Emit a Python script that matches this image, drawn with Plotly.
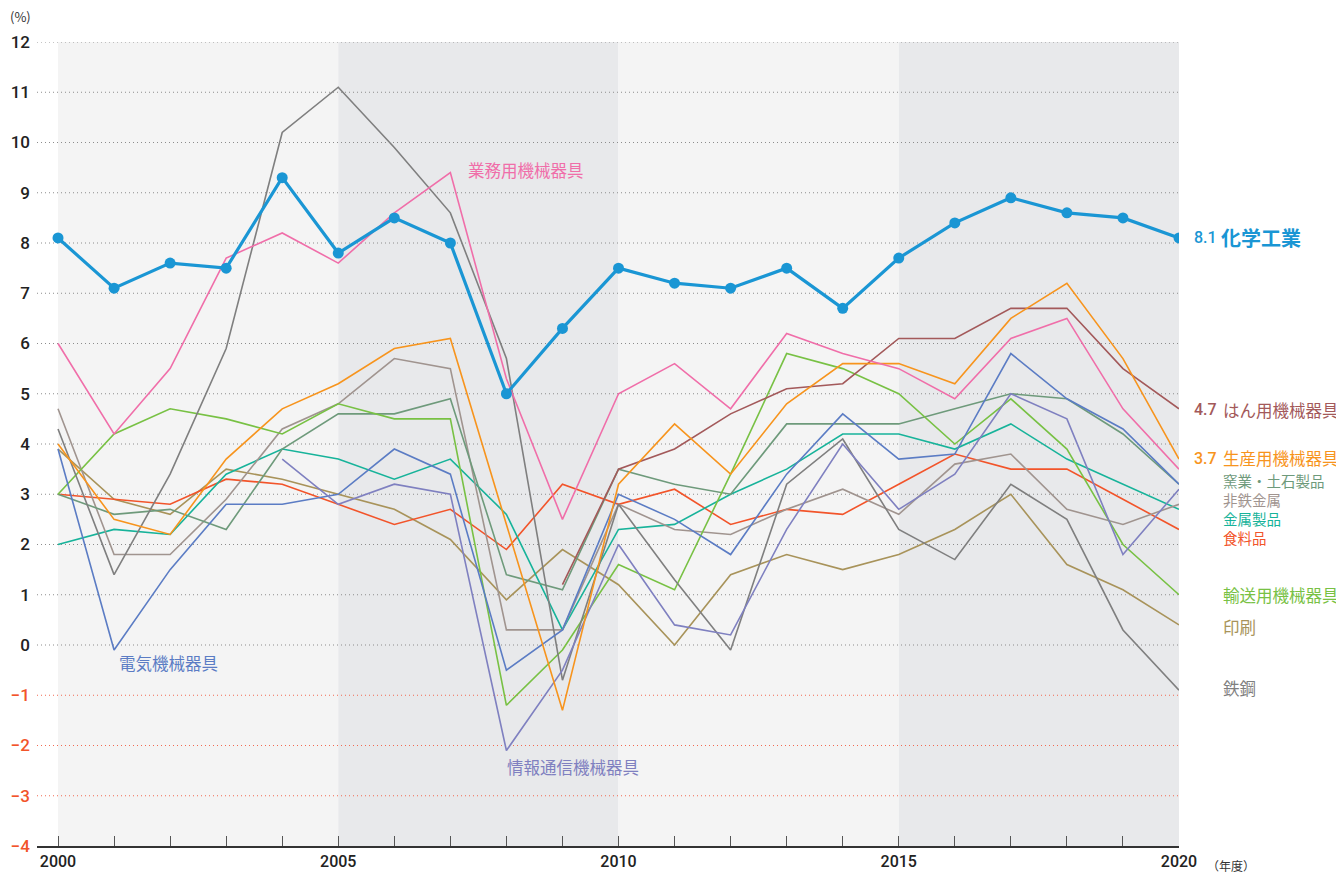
import plotly.graph_objects as go

years = list(range(2000, 2021))

# growth rate by industry (%), None = no data for that year
chemical = [8.1, 7.1, 7.6, 7.5, 9.3, 7.8, 8.5, 8.0, 5.0, 6.3, 7.5, 7.2, 7.1, 7.5, 6.7, 7.7, 8.4, 8.9, 8.6, 8.5, 8.1]
business_machinery = [6.0, 4.2, 5.5, 7.7, 8.2, 7.6, 8.6, 9.4, 5.3, 2.5, 5.0, 5.6, 4.7, 6.2, 5.8, 5.5, 4.9, 6.1, 6.5, 4.7, 3.5]
steel = [4.3, 1.4, 3.4, 5.9, 10.2, 11.1, 9.9, 8.6, 5.7, -0.7, 2.8, 1.3, -0.1, 3.2, 4.1, 2.3, 1.7, 3.2, 2.5, 0.3, -0.9]
electrical = [3.9, -0.1, 1.5, 2.8, 2.8, 3.0, 3.9, 3.4, -0.5, 0.3, 3.0, 2.5, 1.8, 3.4, 4.6, 3.7, 3.8, 5.8, 4.9, 4.3, 3.2]
info_comm = [None, None, None, None, 3.7, 2.8, 3.2, 3.0, -2.1, -0.5, 2.0, 0.4, 0.2, 2.3, 4.0, 2.7, 3.4, 5.0, 4.5, 1.8, 3.1]
general_machinery = [None] * 9 + [1.2, 3.5, 3.9, 4.6, 5.1, 5.2, 6.1, 6.1, 6.7, 6.7, 5.5, 4.7]
production_machinery = [4.0, 2.5, 2.2, 3.7, 4.7, 5.2, 5.9, 6.1, 2.4, -1.3, 3.2, 4.4, 3.4, 4.8, 5.6, 5.6, 5.2, 6.5, 7.2, 5.7, 3.7]
ceramics = [3.0, 2.6, 2.7, 2.3, 3.9, 4.6, 4.6, 4.9, 1.4, 1.1, 3.5, 3.2, 3.0, 4.4, 4.4, 4.4, 4.7, 5.0, 4.9, 4.2, 3.2]
nonferrous = [4.7, 1.8, 1.8, 2.9, 4.3, 4.8, 5.7, 5.5, 0.3, 0.3, 2.8, 2.3, 2.2, 2.7, 3.1, 2.6, 3.6, 3.8, 2.7, 2.4, 2.8]
metal_products = [2.0, 2.3, 2.2, 3.4, 3.9, 3.7, 3.3, 3.7, 2.6, 0.3, 2.3, 2.4, 3.0, 3.5, 4.2, 4.2, 3.9, 4.4, 3.7, 3.2, 2.7]
food = [3.0, 2.9, 2.8, 3.3, 3.2, 2.8, 2.4, 2.7, 1.9, 3.2, 2.8, 3.1, 2.4, 2.7, 2.6, 3.2, 3.8, 3.5, 3.5, 2.9, 2.3]
transport = [3.0, 4.2, 4.7, 4.5, 4.2, 4.8, 4.5, 4.5, -1.2, -0.1, 1.6, 1.1, 3.4, 5.8, 5.5, 5.0, 4.0, 4.9, 3.9, 2.0, 1.0]
printing = [3.9, 2.9, 2.6, 3.5, 3.3, 3.0, 2.7, 2.1, 0.9, 1.9, 1.2, 0.0, 1.4, 1.8, 1.5, 1.8, 2.3, 3.0, 1.6, 1.1, 0.4]

# thin series: name, values, colour, label y at right edge (None = inline label, "stack" = grouped label)
thin_series = [
    ("印刷", printing, "#a8935a", 0.36),
    ("食料品", food, "#f2542a", "stack"),
    ("金属製品", metal_products, "#17b39a", "stack"),
    ("非鉄金属", nonferrous, "#a0948f", "stack"),
    ("窯業・土石製品", ceramics, "#6e9a7b", "stack"),
    ("輸送用機械器具", transport, "#78c144", 1.0),
    ("鉄鋼", steel, "#7f7f7f", -0.86),
    ("電気機械器具", electrical, "#5b7cc4", None),
    ("情報通信機械器具", info_comm, "#7f80c0", None),
    ("はん用機械器具", general_machinery, "#a3595a", 4.68),
    ("生産用機械器具", production_machinery, "#f7941d", 3.72),
    ("業務用機械器具", business_machinery, "#f06ea9", None),
]
stack_order = ["窯業・土石製品", "非鉄金属", "金属製品", "食料品"]
chem_color = "#1a96d4"

y_ticks = list(range(-4, 13))
bands = [(2000, 2005, "#f4f4f4"), (2005, 2010, "#e8e9eb"), (2010, 2015, "#f4f4f4"), (2015, 2020, "#e8e9eb")]
x_min, x_max = 1999.625, 2020.0

NUM_FONT = "Roboto, Noto Sans CJK JP"
JP_FONT = "Noto Sans CJK JP, Roboto"

fig = go.Figure()

for name, vals, color, _ in thin_series:
    fig.add_trace(go.Scatter(x=years, y=vals, mode="lines", name=name,
                             line=dict(color=color, width=1.6), connectgaps=False))

fig.add_trace(go.Scatter(x=years, y=chemical, mode="lines+markers", name="化学工業",
                         line=dict(color=chem_color, width=3.2),
                         marker=dict(size=11, color=chem_color)))

# alternating background bands
for x0, x1, c in bands:
    fig.add_shape(type="rect", xref="x", yref="y", x0=x0, x1=x1, y0=-4, y1=12,
                  fillcolor=c, line_width=0, layer="below")

# dotted grid lines, red below zero
for v in y_ticks[1:]:
    fig.add_shape(type="line", xref="x", yref="y", x0=x_min, x1=x_max, y0=v, y1=v,
                  line=dict(color="#f26a52" if v < 0 else "#8c8c8c", width=1, dash="1px,3px"),
                  layer="below")

tick_text = []
for v in y_ticks:
    if v < 0:
        tick_text.append(f'<span style="color:#f2542a">−{abs(v)}</span>')
    else:
        tick_text.append(str(v))

anns = []
colors = {name: color for name, _, color, _ in thin_series}
last_vals = {"はん用機械器具": general_machinery[-1], "生産用機械器具": production_machinery[-1]}
for name, vals, color, ly in thin_series:
    if ly is None or ly == "stack":
        continue
    anns.append(dict(x=2020, y=ly, xref="x", yref="y", text=name, showarrow=False,
                     xanchor="left", xshift=42,
                     font=dict(family=JP_FONT, size=16.5, color=color)))
    if name in last_vals:
        anns.append(dict(x=2020, y=ly, xref="x", yref="y", text=f"{last_vals[name]:.1f}", showarrow=False,
                         xanchor="left", xshift=13, font=dict(family=NUM_FONT, size=16, color=color, weight=500)))

# grouped labels for the four close series
stack_text = "<br>".join(f'<span style="color:{colors[n]}">{n}</span>' for n in stack_order)
anns.append(dict(x=2020, y=2.7, xref="x", yref="y", text=stack_text, showarrow=False,
                 xanchor="left", yanchor="middle", align="left", xshift=42,
                 font=dict(family=JP_FONT, size=14.5, color="#555")))

anns.append(dict(x=2020, y=chemical[-1], xref="x", yref="y", text=f"{chemical[-1]:.1f}", showarrow=False,
                 xanchor="left", xshift=13, font=dict(family=NUM_FONT, size=16, color=chem_color, weight=500)))
anns.append(dict(x=2020, y=chemical[-1], xref="x", yref="y", text="<b>化学工業</b>", showarrow=False,
                 xanchor="left", xshift=40, font=dict(family=JP_FONT, size=20, color=chem_color)))

# inline labels
anns.append(dict(x=2007.28, y=9.45, xref="x", yref="y", text="業務用機械器具", showarrow=False,
                 xanchor="left", font=dict(family=JP_FONT, size=16.5, color="#f06ea9")))
anns.append(dict(x=2001.05, y=-0.36, xref="x", yref="y", text="電気機械器具", showarrow=False,
                 xanchor="left", font=dict(family=JP_FONT, size=16.5, color="#5b7cc4")))
anns.append(dict(x=2007.98, y=-2.43, xref="x", yref="y", text="情報通信機械器具", showarrow=False,
                 xanchor="left", font=dict(family=JP_FONT, size=16.5, color="#7f80c0")))

# axis units
anns.append(dict(x=0, y=1, xref="paper", yref="paper", text="(%)", showarrow=False,
                 xanchor="center", yanchor="bottom", xshift=-17, yshift=14,
                 font=dict(family=JP_FONT, size=13, color="#333")))
anns.append(dict(x=2020, y=0, xref="x", yref="paper", text="（年度）", showarrow=False,
                 xanchor="left", yanchor="top", xshift=26, yshift=-9,
                 font=dict(family=JP_FONT, size=12, color="#333")))

# page body adds an 8px offset, so margins are set to land the plot area where the reference has it
fig.update_layout(
    width=1344, height=876,
    margin=dict(l=29, r=173, t=34, b=38),
    plot_bgcolor="white", paper_bgcolor="white",
    showlegend=False,
    annotations=anns,
    xaxis=dict(range=[x_min, x_max], tickmode="array", tickvals=years,
               ticktext=[str(y) if y % 5 == 0 else "" for y in years],
               ticks="inside", ticklen=10, tickcolor="#555", tickwidth=1,
               showgrid=False, zeroline=False, showline=True, linecolor="#333", linewidth=2,
               automargin=False,
               tickfont=dict(family=NUM_FONT, size=16, color="#222", weight=500)),
    yaxis=dict(range=[-4, 12], tickmode="array", tickvals=y_ticks, ticktext=tick_text,
               showgrid=False, zeroline=False, showline=False, ticks="",
               ticklabelstandoff=6, automargin=False,
               tickfont=dict(family=NUM_FONT, size=17, color="#222", weight=500)),
)

fig.write_html("out.html")
